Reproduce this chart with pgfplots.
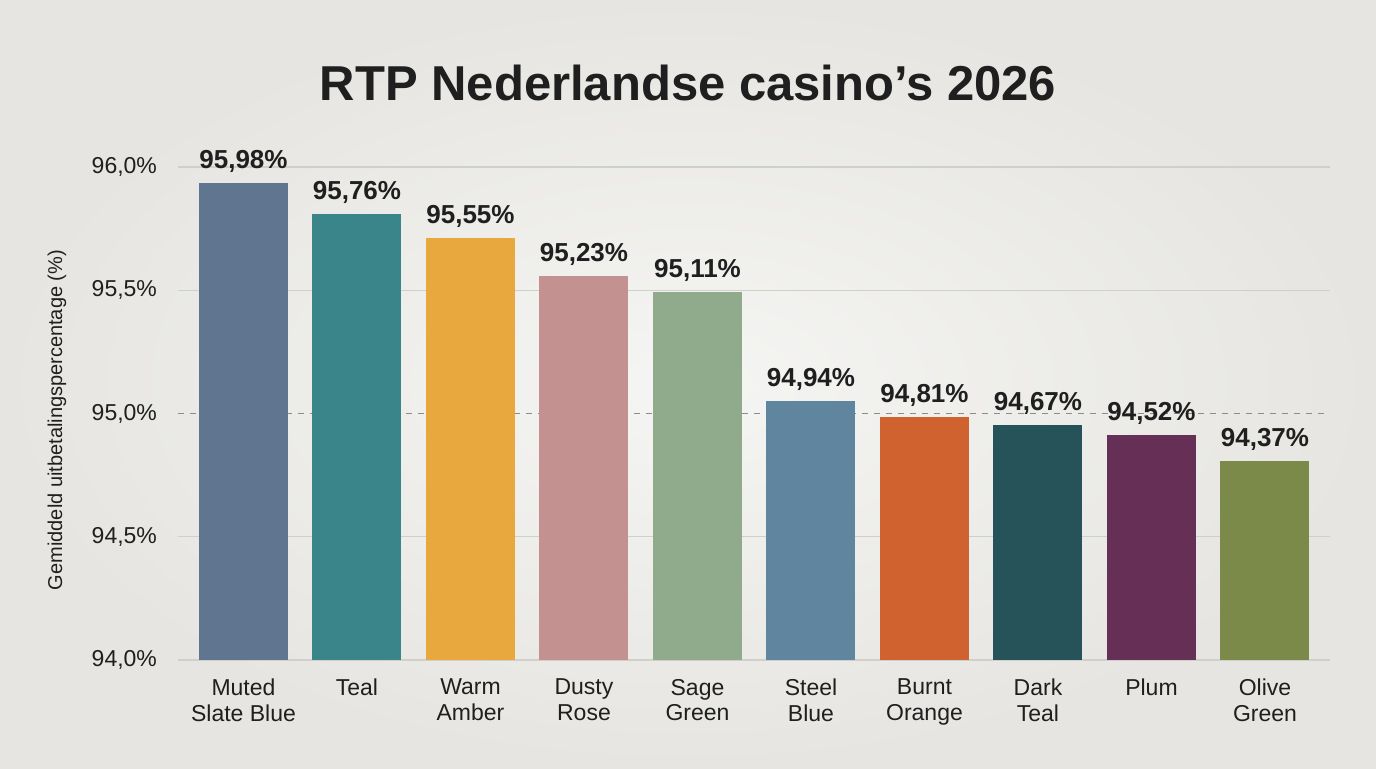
\documentclass[border=0pt]{standalone}
\usepackage{fontspec}
\setmainfont{Liberation Sans}
\usepackage{pgfplots}
\pgfplotsset{compat=1.18}

\definecolor{bgin}{HTML}{F5F5F3}
\definecolor{bgout}{HTML}{E6E5E1}
\definecolor{txt}{HTML}{1F1F1F}
\definecolor{gridc}{HTML}{CFCFCC}
\definecolor{c1}{HTML}{5F7590}
\definecolor{c2}{HTML}{3A8589}
\definecolor{c3}{HTML}{E8A83E}
\definecolor{c4}{HTML}{C49191}
\definecolor{c5}{HTML}{8FAB8C}
\definecolor{c6}{HTML}{5F859F}
\definecolor{c7}{HTML}{D0622F}
\definecolor{c8}{HTML}{26525A}
\definecolor{c9}{HTML}{662F55}
\definecolor{c10}{HTML}{7B8A48}

\begin{document}
\begin{tikzpicture}
\shade[inner color=bgin, outer color=bgout] (0,0) rectangle (688pt,384pt);

\node[anchor=base, text=txt, font=\fontsize{24.5}{28}\selectfont\bfseries]
  at (344pt,334pt) {RTP Nederlandse casino’s 2026};

\node[rotate=90, text=txt, font=\fontsize{10}{12}\selectfont]
  at (28.5pt,174pt) {Gemiddeld uitbetalingspercentage (\%)};

\begin{axis}[
  at={(89pt,54pt)}, anchor=south west,
  scale only axis,
  width=576pt, height=258.8pt,
  xmin=-0.577, xmax=9.573,
  ymin=94, ymax=96.1,
  ybar, bar width=44.5pt, bar shift=0pt,
  axis line style={draw=none},
  major tick length=0pt,
  ytick={94,94.5,95.5,96},
  extra y ticks={95},
  extra y tick style={grid style={draw=black!45, dashed, line width=0.6pt}},
  ymajorgrids,
  grid style={draw=gridc, line width=0.6pt},
  /pgf/number format/assume math mode=true,
  yticklabel={\pgfmathprintnumber[fixed,fixed zerofill,precision=1,use comma]{\tick}\%},
  yticklabel style={font=\fontsize{11.5}{13}\selectfont, text=txt, xshift=-7pt},
  xtick={0,...,9},
  xticklabels={{Muted\\Slate Blue},{Teal},{Warm\\Amber},{Dusty\\Rose},{Sage\\Green},
    {Steel\\Blue},{Burnt\\Orange},{Dark\\Teal},{Plum},{Olive\\Green}},
  xticklabel style={font=\fontsize{11.5}{12.8}\selectfont, text=txt, align=center,
    anchor=north, yshift=-6pt},
  nodes near coords,
  point meta=explicit symbolic,
  every node near coord/.append style={font=\fontsize{13}{15}\selectfont\bfseries,
    text=txt, anchor=south, yshift=1.5pt},
]
\addplot[fill=c1, draw=none] coordinates {(0,95.936) [95,98\%]};
\addplot[fill=c2, draw=none] coordinates {(1,95.810) [95,76\%]};
\addplot[fill=c3, draw=none] coordinates {(2,95.712) [95,55\%]};
\addplot[fill=c4, draw=none] coordinates {(3,95.558) [95,23\%]};
\addplot[fill=c5, draw=none] coordinates {(4,95.493) [95,11\%]};
\addplot[fill=c6, draw=none] coordinates {(5,95.052) [94,94\%]};
\addplot[fill=c7, draw=none] coordinates {(6,94.986) [94,81\%]};
\addplot[fill=c8, draw=none] coordinates {(7,94.954) [94,67\%]};
\addplot[fill=c9, draw=none] coordinates {(8,94.913) [94,52\%]};
\addplot[fill=c10, draw=none] coordinates {(9,94.809) [94,37\%]};
\end{axis}
\pgfresetboundingbox
\path (0,0) rectangle (688pt,384pt);
\end{tikzpicture}
\end{document}
